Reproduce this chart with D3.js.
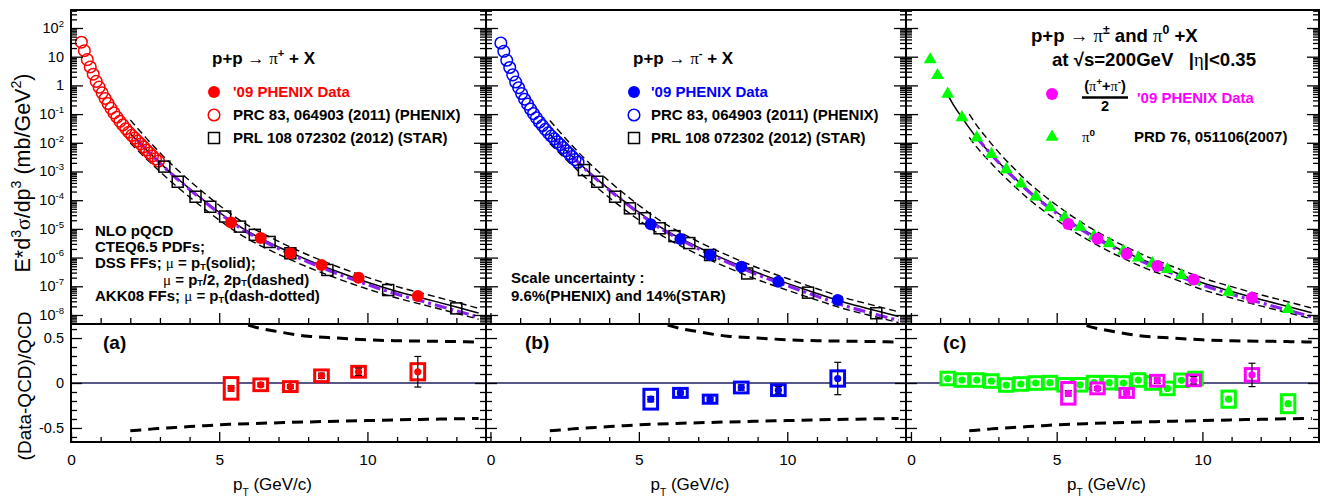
<!DOCTYPE html>
<html>
<head>
<meta charset="utf-8">
<script src="https://cdn.jsdelivr.net/npm/d3@7"></script>
<style>
  body { margin: 0; background: #fff; }
  text { font-family: "Liberation Sans", Arial, Helvetica, sans-serif; white-space: pre; }
</style>
</head>
<body>
<svg id="chart" width="1332" height="497"></svg>
<script>
// ---------------- data ----------------
// PHENIX 2011 (PRC 83, 064903) charged-pion spectra, E d3sigma/dp3 in mb/GeV^2
const prcPt = [0.35,0.45,0.55,0.65,0.75,0.85,0.95,1.05,1.15,1.25,1.35,1.45,1.55,1.65,1.75,1.85,1.95,2.05,2.15,2.25,2.35,2.45,2.55,2.65,2.75,2.85,2.95];
const prcPiPlus  = [32,16.2,7.9,4.4,2.45,1.38,0.87,0.55,0.35,0.234,0.158,0.110,0.078,0.056,0.042,0.031,0.0234,0.0182,0.0145,0.0115,0.0091,0.0072,0.0056,0.0044,0.0035,0.00275,0.0023];
const prcPiMinus = [30,15.4,7.5,4.2,2.33,1.31,0.83,0.52,0.33,0.222,0.150,0.104,0.074,0.053,0.040,0.0294,0.0222,0.0172,0.0137,0.0108,0.0086,0.0068,0.0053,0.0042,0.0033,0.0026,0.0021];

// STAR 2012 (PRL 108 072302)
const starPt = [3.15,3.6,4.2,4.7,5.2,5.7,6.2,6.7,7.4,8.65,10.7,13.0];
const starPiPlus  = [1.48e-3,4.4e-4,1.32e-4,5.9e-5,2.7e-5,1.2e-5,6.2e-6,3.5e-6,1.41e-6,3.7e-7,7.4e-8,1.7e-8];
const starPiMinus = [1.12e-3,4.4e-4,1.32e-4,5.2e-5,2.35e-5,1.05e-5,5.6e-6,3.2e-6,1.23e-6,2.8e-7,6.0e-8,1.15e-8];

// '09 PHENIX data
const phxPt = [5.4,6.4,7.4,8.45,9.7,11.7];
const phxPiPlus  = [1.66e-5,4.8e-6,1.41e-6,5.5e-7,2.0e-7,4.6e-8];
const phxPiMinus = [1.45e-5,4.4e-6,1.23e-6,4.8e-7,1.45e-7,3.3e-8];
const phxPiAvg   = [1.48e-5,4.5e-6,1.35e-6,5.1e-7,1.74e-7,4.0e-8];
// (Data-QCD)/QCD with systematic (box) and statistical (bar) half-widths
const phxRatioPlus  = [-0.06,-0.02,-0.04,0.08,0.125,0.125];
const phxSysPlus    = [0.12,0.065,0.055,0.065,0.06,0.09];
const phxStatPlus   = [0.03,0.02,0.02,0.03,0.04,0.17];
const phxRatioMinus = [-0.18,-0.11,-0.18,-0.05,-0.08,0.05];
const phxSysMinus   = [0.11,0.05,0.045,0.06,0.06,0.085];
const phxStatMinus  = [0.03,0.02,0.02,0.03,0.04,0.18];
const phxRatioAvg   = [-0.115,-0.06,-0.11,0.025,0.03,0.09];
const phxSysAvg     = [0.12,0.06,0.05,0.06,0.06,0.07];
const phxStatAvg    = [0.03,0.02,0.02,0.03,0.04,0.13];

// PHENIX pi0 (PRD 76, 051106 (2007))
const pi0Pt = [0.66,0.91,1.26,1.75,2.26,2.76,3.27,3.77,4.28,4.77,5.27,5.8,6.28,6.8,7.29,7.8,8.28,8.8,9.28,9.76,10.9,12.94];
const pi0Xs = [7.9,2.24,0.50,0.076,0.0151,4.0e-3,1.17e-3,3.7e-4,1.32e-4,5.6e-5,2.5e-5,1.17e-5,5.6e-6,3.1e-6,1.7e-6,9.8e-7,6.2e-7,3.9e-7,2.4e-7,1.48e-7,6.3e-8,1.58e-8];
const pi0Ratio = [null,null,0.05,0.033,0.033,0.022,-0.022,-0.011,0.0,0.004,-0.02,-0.02,0.004,0.004,0.0,0.033,0.0,-0.06,0.03,0.05,-0.18,-0.23];
const pi0Sys   = [null,null,0.07,0.07,0.07,0.07,0.07,0.07,0.07,0.07,0.07,0.07,0.07,0.07,0.07,0.07,0.07,0.07,0.07,0.07,0.09,0.1];

// NLO pQCD (CTEQ6.5, DSS, mu = pT) and variations
const thPt = [1.25,1.5,1.75,2,2.25,2.5,2.75,3,3.5,4,4.5,5,5.5,6,7,8,9,10,11,12,13,13.75];
const qcdPiPlus  = [null,null,null,2.09e-2,1.15e-2,6.3e-3,3.55e-3,2.0e-3,6.8e-4,2.5e-4,9.5e-5,3.8e-5,1.62e-5,7.8e-6,2.34e-6,8.1e-7,3.2e-7,1.38e-7,6.6e-8,3.55e-8,1.9e-8,1.17e-8];
const qcdPiMinus = [null,null,null,2.0e-2,1.1e-2,6.0e-3,3.4e-3,1.9e-3,6.5e-4,2.4e-4,9.3e-5,3.8e-5,1.62e-5,7.8e-6,2.3e-6,7.8e-7,2.95e-7,1.26e-7,5.6e-8,2.6e-8,1.41e-8,8.9e-9];
const qcdPiAvg   = [0.50,0.178,0.076,0.033,0.0151,7.6e-3,4.0e-3,2.14e-3,6.8e-4,2.3e-4,8.9e-5,3.8e-5,1.7e-5,8.3e-6,2.34e-6,7.9e-7,3.2e-7,1.32e-7,6.6e-8,3.47e-8,1.9e-8,1.2e-8];
// relative deviation of mu = pT/2 and mu = 2pT from mu = pT
const scaleHalfRatio   = [null,null,null,2.0,1.75,1.55,1.38,1.25,1.05,0.92,0.83,0.76,0.70,0.64,0.57,0.52,0.50,0.48,0.47,0.465,0.46,0.455];
const scaleDoubleRatio = [null,null,null,-0.53,-0.525,-0.52,-0.51,-0.505,-0.495,-0.485,-0.475,-0.465,-0.458,-0.452,-0.442,-0.433,-0.425,-0.418,-0.41,-0.404,-0.398,-0.394];
// relative deviation of AKK08 FFs from DSS FFs
const akkRatio = [null,null,null,null,0.05,0.02,0.0,-0.02,-0.04,-0.05,-0.06,-0.07,-0.08,-0.09,-0.11,-0.13,-0.15,-0.17,-0.20,-0.23,-0.26,-0.28];

// axis ticks
const xMajor = [0,5,10];
const xMinor = [1,2,3,4,6,7,8,9,11,12,13,14];
const yDecades = [2,1,0,-1,-2,-3,-4,-5,-6,-7,-8];
const ratioMajor = [-0.5,0,0.5];
const ratioMinor = [-0.6,-0.4,-0.3,-0.2,-0.1,0.1,0.2,0.3,0.4,0.6];

// ---------------- layout ----------------
const SERIF = '"Liberation Serif","DejaVu Serif",serif';
const RED = "#ff0000", BLUE = "#0000ff", MAG = "#ff00ff", GRN = "#00ff00", VIOLET = "#8b20f0";
const svg = d3.select("#chart");

const padTop = 10, midY = 324, padBot = 442;
const panels = [
  { x: d3.scaleLinear().domain([0,14]).range([71,486]) },
  { x: d3.scaleLinear().domain([-0.15,14]).range([486,906]) },
  { x: d3.scaleLinear().domain([-0.17,14]).range([906,1319]) }
];
const yU = d3.scaleLog().domain([Math.pow(10,-8.314), Math.pow(10,2.627)]).range([midY, padTop]);
const yL = d3.scaleLinear().domain([-0.656,0.656]).range([padBot, midY]);

// text with super/subscripts; p.sub may carry its own drop (fraction of font size)
function rich(sel, parts, size) {
  let shift = 0;
  parts.forEach(p => {
    const target = p.sup ? -0.42*size : p.sub ? (typeof p.sub === "number" ? p.sub : 0.12)*size : 0;
    const ts = sel.append("tspan").attr("dy", target - shift).text(p.t);
    shift = target;
    if (p.sup) ts.attr("font-size", size*0.66);
    if (p.sub) ts.attr("font-size", size*0.6);
    if (p.serif) ts.attr("font-family", SERIF).attr("font-weight", "normal");
    if (p.fill) ts.attr("fill", p.fill);
  });
  return sel;
}
function label(x, y, size, weight, parts, anchor, fill) {
  const t = svg.append("text").attr("x", x).attr("y", y)
    .attr("font-size", size).attr("font-weight", weight || "normal")
    .attr("text-anchor", anchor || "start").attr("fill", fill || "#000");
  return rich(t, parts, size);
}

// clip paths per panel
panels.forEach((p, i) => {
  const [x0, x1] = p.x.range();
  const defs = svg.append("defs");
  defs.append("clipPath").attr("id", "cu" + i).append("rect")
    .attr("x", x0).attr("y", padTop).attr("width", x1 - x0).attr("height", midY - padTop);
  defs.append("clipPath").attr("id", "cl" + i).append("rect")
    .attr("x", x0).attr("y", midY).attr("width", x1 - x0).attr("height", padBot - midY);
});

const theorySets = [qcdPiPlus, qcdPiMinus, qcdPiAvg];

function curve(x, yScale, vals) {
  const pts = thPt.map((pt, i) => ({ pt, v: vals[i] }));
  return d3.line().defined(d => d.v != null).curve(d3.curveMonotoneX)
    .x(d => x(d.pt)).y(d => yScale(d.v))(pts);
}

// ---------------- theory curves ----------------
panels.forEach((p, i) => {
  const qcd = theorySets[i];
  const gU = svg.append("g").attr("clip-path", `url(#cu${i})`);
  const hi = qcd.map((v, k) => v == null || scaleHalfRatio[k] == null ? null : v * (1 + scaleHalfRatio[k]));
  const lo = qcd.map((v, k) => v == null || scaleDoubleRatio[k] == null ? null : v * (1 + scaleDoubleRatio[k]));
  const akk = qcd.map((v, k) => v == null || akkRatio[k] == null ? null : v * (1 + akkRatio[k]));
  [hi, lo].forEach(vals => gU.append("path").attr("d", curve(p.x, yU, vals))
    .attr("fill", "none").attr("stroke", "#000").attr("stroke-width", 1.4).attr("stroke-dasharray", "7,4"));
  gU.append("path").attr("d", curve(p.x, yU, qcd))
    .attr("fill", "none").attr("stroke", "#000").attr("stroke-width", 1.5);
  gU.append("path").attr("d", curve(p.x, yU, akk))
    .attr("fill", "none").attr("stroke", VIOLET).attr("stroke-width", 3.2).attr("stroke-dasharray", "12,4,3,4");

  const gL = svg.append("g").attr("clip-path", `url(#cl${i})`);
  [scaleHalfRatio, scaleDoubleRatio].forEach(vals => gL.append("path").attr("d", curve(p.x, yL, vals))
    .attr("fill", "none").attr("stroke", "#000").attr("stroke-width", 3).attr("stroke-dasharray", "11,7"));
  const [x0, x1] = p.x.range();
  gL.append("line").attr("x1", x0).attr("x2", x1).attr("y1", yL(0)).attr("y2", yL(0))
    .attr("stroke", "#202060").attr("stroke-width", 1.6);
});

// ---------------- upper-panel markers ----------------
function openCircles(x, pts, vals, color) {
  svg.append("g").selectAll("circle").data(pts).join("circle")
    .attr("cx", d => x(d)).attr("cy", (d, i) => yU(vals[i])).attr("r", 5.8)
    .attr("fill", "none").attr("stroke", color).attr("stroke-width", 1.5);
}
function openSquares(x, pts, vals) {
  svg.append("g").selectAll("rect").data(pts).join("rect")
    .attr("x", d => x(d) - 5.5).attr("y", (d, i) => yU(vals[i]) - 5.5)
    .attr("width", 11).attr("height", 11)
    .attr("fill", "none").attr("stroke", "#000").attr("stroke-width", 1.5);
}
function filledCircles(x, pts, vals, color) {
  svg.append("g").selectAll("circle").data(pts).join("circle")
    .attr("cx", d => x(d)).attr("cy", (d, i) => yU(vals[i])).attr("r", 6).attr("fill", color);
}
const tri = d3.symbol().type(d3.symbolTriangle).size(72);

openCircles(panels[0].x, prcPt, prcPiPlus, RED);
openSquares(panels[0].x, starPt, starPiPlus);
filledCircles(panels[0].x, phxPt, phxPiPlus, RED);

openCircles(panels[1].x, prcPt, prcPiMinus, BLUE);
openSquares(panels[1].x, starPt, starPiMinus);
filledCircles(panels[1].x, phxPt, phxPiMinus, BLUE);

svg.append("g").selectAll("path").data(pi0Pt).join("path")
  .attr("d", tri).attr("fill", GRN)
  .attr("transform", (d, i) => `translate(${panels[2].x(d)},${yU(pi0Xs[i])})`);
filledCircles(panels[2].x, phxPt, phxPiAvg, MAG);

// ---------------- ratio-panel markers ----------------
function ratioPoints(x, pts, ratio, sys, stat, color) {
  const data = pts.map((pt, i) => ({ pt, r: ratio[i], s: sys[i], e: stat ? stat[i] : 0 }))
    .filter(d => d.r != null);
  const g = svg.append("g");
  g.selectAll("rect").data(data).join("rect")
    .attr("x", d => x(d.pt - 0.23)).attr("width", d => x(d.pt + 0.23) - x(d.pt - 0.23))
    .attr("y", d => yL(d.r + d.s)).attr("height", d => yL(d.r - d.s) - yL(d.r + d.s))
    .attr("fill", "#fff").attr("stroke", color).attr("stroke-width", 3);
  const eb = g.selectAll("g.eb").data(data.filter(d => d.e > 0)).join("g").attr("class", "eb");
  eb.append("line").attr("x1", d => x(d.pt)).attr("x2", d => x(d.pt))
    .attr("y1", d => yL(d.r + d.e)).attr("y2", d => yL(d.r - d.e)).attr("stroke", "#000").attr("stroke-width", 1.2);
  [1, -1].forEach(sg => eb.append("line")
    .attr("x1", d => x(d.pt) - 3.5).attr("x2", d => x(d.pt) + 3.5)
    .attr("y1", d => yL(d.r + sg * d.e)).attr("y2", d => yL(d.r + sg * d.e))
    .attr("stroke", "#000").attr("stroke-width", 1.2));
  g.selectAll("circle").data(data).join("circle")
    .attr("cx", d => x(d.pt)).attr("cy", d => yL(d.r)).attr("r", 3.6).attr("fill", color);
}
ratioPoints(panels[0].x, phxPt, phxRatioPlus, phxSysPlus, phxStatPlus, RED);
ratioPoints(panels[1].x, phxPt, phxRatioMinus, phxSysMinus, phxStatMinus, BLUE);
ratioPoints(panels[2].x, pi0Pt, pi0Ratio, pi0Sys, null, GRN);
ratioPoints(panels[2].x, phxPt, phxRatioAvg, phxSysAvg, phxStatAvg, MAG);

// ---------------- frames and axes ----------------
function tickAxis(g, axisFn, scale, values, size) {
  g.call(axisFn(scale).tickValues(values).tickSize(size).tickFormat(""));
  g.select(".domain").remove();
  g.selectAll("line").attr("stroke", "#000").attr("stroke-width", 1.3);
}
const logMinor = [];
for (let k = -9; k <= 2; k++) for (let m = 2; m <= 9; m++) {
  const v = m * Math.pow(10, k);
  if (v > yU.domain()[0] && v < yU.domain()[1]) logMinor.push(v);
}
const logMajor = yDecades.map(k => Math.pow(10, k));

panels.forEach((p, i) => {
  const [x0, x1] = p.x.range();
  const inDom = v => v < p.x.domain()[1];
  tickAxis(svg.append("g").attr("transform", `translate(0,${midY})`), d3.axisTop, p.x, xMajor, 11);
  tickAxis(svg.append("g").attr("transform", `translate(0,${midY})`), d3.axisTop, p.x, xMinor.filter(inDom), 6);
  tickAxis(svg.append("g").attr("transform", `translate(0,${padBot})`), d3.axisTop, p.x, xMajor, 10);
  tickAxis(svg.append("g").attr("transform", `translate(0,${padBot})`), d3.axisTop, p.x, xMinor.filter(inDom), 5);
  [[x0, d3.axisRight], [x1, d3.axisLeft]].forEach(([xx, fn]) => {
    tickAxis(svg.append("g").attr("transform", `translate(${xx},0)`), fn, yU, logMajor, 12);
    tickAxis(svg.append("g").attr("transform", `translate(${xx},0)`), fn, yU, logMinor, 6);
    tickAxis(svg.append("g").attr("transform", `translate(${xx},0)`), fn, yL, ratioMajor, 11);
    tickAxis(svg.append("g").attr("transform", `translate(${xx},0)`), fn, yL, ratioMinor, 6);
  });
  const lab = svg.append("g").attr("transform", `translate(0,${padBot})`)
    .call(d3.axisBottom(p.x).tickValues(xMajor).tickSize(0).tickPadding(12).tickFormat(d3.format("d")));
  lab.select(".domain").remove();
  lab.selectAll("text").attr("font-size", 15.5).attr("font-family", '"Liberation Sans",Arial,sans-serif').attr("fill", "#000");
  svg.append("rect").attr("x", x0).attr("y", padTop).attr("width", x1 - x0).attr("height", midY - padTop)
    .attr("fill", "none").attr("stroke", "#000").attr("stroke-width", 2);
  svg.append("rect").attr("x", x0).attr("y", midY).attr("width", x1 - x0).attr("height", padBot - midY)
    .attr("fill", "none").attr("stroke", "#000").attr("stroke-width", 2);
  label((x0 + x1) / 2 - 6, 490, 17, "normal",
    [{ t: "p" }, { t: "T", sub: 0.33 }, { t: " (GeV/c)" }], "middle");
});

// y tick labels
yDecades.forEach(k => {
  const y = yU(Math.pow(10, k)) + 5;
  if (k === 1) label(64, y, 14.5, "normal", [{ t: "10" }], "end");
  else if (k === 0) label(64, y, 14.5, "normal", [{ t: "1" }], "end");
  else label(64, y, 14.5, "normal", [{ t: "10" }, { t: String(k), sup: true }], "end");
});
ratioMajor.forEach(v => label(64, yL(v) + 5, 14.5, "normal", [{ t: v === 0 ? "0" : String(v) }], "end"));

// y axis titles
const t1 = svg.append("text").attr("transform", "translate(30,173) rotate(-90)")
  .attr("font-size", 21.5).attr("text-anchor", "middle");
rich(t1, [{ t: "E*d" }, { t: "3", sup: true }, { t: "σ", serif: true }, { t: "/dp" }, { t: "3", sup: true }, { t: " (mb/GeV" }, { t: "2", sup: true }, { t: ")" }], 21.5);
const t2 = svg.append("text").attr("transform", "translate(31,386) rotate(-90)")
  .attr("font-size", 19).attr("text-anchor", "middle");
rich(t2, [{ t: "(Data-QCD)/QCD" }], 19);

// ---------------- panel texts ----------------
const PI = { t: "π", serif: true }, ARROW = { t: "→", serif: true }, MU = { t: "μ", serif: true };
label(212, 64, 17, "bold", [{ t: "p+p " }, ARROW, { t: " " }, PI, { t: "+", sup: true }, { t: " + X" }]);
label(633, 64, 17, "bold", [{ t: "p+p " }, ARROW, { t: " " }, PI, { t: "-", sup: true }, { t: " + X" }]);
label(1031, 41.5, 18.6, "bold", [{ t: "p+p " }, ARROW, { t: " " }, PI, { t: "±", sup: true }, { t: " and " }, PI, { t: "0", sup: true }, { t: " +X" }]);
label(1052, 66, 18.6, "bold", [{ t: "at √s=200GeV   |" }, { t: "η", serif: true }, { t: "|<0.35" }]);

function legendRows(mx, tx, rows) {
  rows.forEach(r => {
    if (r.kind === "fill") svg.append("circle").attr("cx", mx).attr("cy", r.y).attr("r", 6).attr("fill", r.color);
    if (r.kind === "open") svg.append("circle").attr("cx", mx).attr("cy", r.y).attr("r", 5.8).attr("fill", "none").attr("stroke", r.color).attr("stroke-width", 1.5);
    if (r.kind === "square") svg.append("rect").attr("x", mx - 5.5).attr("y", r.y - 5.5).attr("width", 11).attr("height", 11).attr("fill", "none").attr("stroke", "#000").attr("stroke-width", 1.5);
    label(tx, r.y + 5.4, 15, "bold", [{ t: r.text }], "start", r.tcolor || "#000");
  });
}
legendRows(214, 233, [
  { kind: "fill", y: 92, color: RED, text: "'09 PHENIX Data", tcolor: RED },
  { kind: "open", y: 115, color: RED, text: "PRC 83, 064903 (2011) (PHENIX)" },
  { kind: "square", y: 138, text: "PRL 108 072302 (2012) (STAR)" }
]);
legendRows(634, 651, [
  { kind: "fill", y: 92, color: BLUE, text: "'09 PHENIX Data", tcolor: BLUE },
  { kind: "open", y: 115, color: BLUE, text: "PRC 83, 064903 (2011) (PHENIX)" },
  { kind: "square", y: 138, text: "PRL 108 072302 (2012) (STAR)" }
]);
svg.append("circle").attr("cx", 1052).attr("cy", 94).attr("r", 6).attr("fill", MAG);
label(1105, 91, 14.5, "bold", [{ t: "(" }, PI, { t: "+", sup: true }, { t: "+" }, PI, { t: "-", sup: true }, { t: ")" }], "middle");
svg.append("line").attr("x1", 1082).attr("x2", 1128).attr("y1", 97.5).attr("y2", 97.5).attr("stroke", "#000").attr("stroke-width", 2.5);
label(1105, 110.5, 14.5, "bold", [{ t: "2" }], "middle");
label(1137, 103, 15, "bold", [{ t: "'09 PHENIX Data" }], "start", MAG);
svg.append("path").attr("d", tri).attr("fill", GRN).attr("transform", "translate(1052,137)");
label(1082, 142, 15, "bold", [PI, { t: "0", sup: true }]);
label(1134, 142, 15, "bold", [{ t: "PRD 76, 051106(2007)" }]);

const nlo = [
  [95, 236, [{ t: "NLO pQCD" }]],
  [95, 252, [{ t: "CTEQ6.5 PDFs;" }]],
  [95, 268, [{ t: "DSS FFs; " }, MU, { t: " = p" }, { t: "T", sub: true }, { t: "(solid);" }]],
  [163, 284.5, [MU, { t: " = p" }, { t: "T", sub: true }, { t: "/2, 2p" }, { t: "T", sub: true }, { t: "(dashed)" }]],
  [95, 301, [{ t: "AKK08 FFs; " }, MU, { t: " = p" }, { t: "T", sub: true }, { t: "(dash-dotted)" }]]
];
nlo.forEach(([x, y, parts]) => label(x, y, 15, "bold", parts));
label(511, 283, 15, "bold", [{ t: "Scale uncertainty :" }]);
label(511, 300.5, 15, "bold", [{ t: "9.6%(PHENIX) and 14%(STAR)" }]);

label(103, 349, 19, "bold", [{ t: "(a)" }]);
label(525, 349, 19, "bold", [{ t: "(b)" }]);
label(943, 349, 19, "bold", [{ t: "(c)" }]);
</script>
</body>
</html>
